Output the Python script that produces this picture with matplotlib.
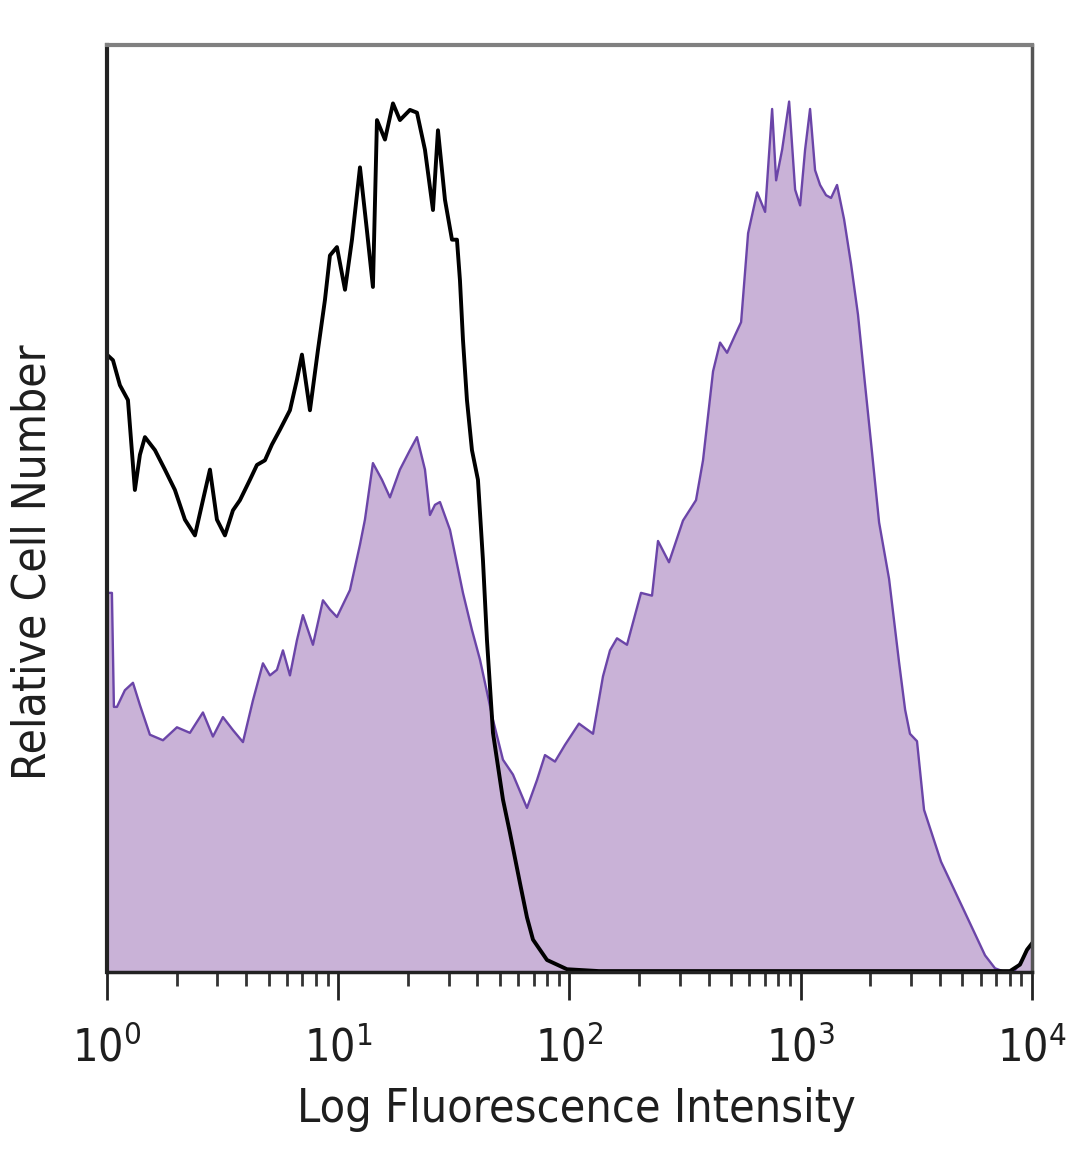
import matplotlib
matplotlib.use("Agg")
import matplotlib.pyplot as plt
import numpy as np

# isotype control (black outline)
ctrl_x = [1.0, 1.0, 1.062, 1.138, 1.233, 1.321, 1.389, 1.460, 1.613, 1.781, 1.968,
          2.174, 2.402, 2.601, 2.789, 2.990, 3.238, 3.506, 3.760, 4.153, 4.453,
          4.822, 5.170, 5.599, 6.185, 6.632, 6.970, 7.548, 8.174, 8.764, 9.211,
          9.876, 10.70, 11.47, 12.42, 13.31, 14.13, 14.71, 15.93, 17.25, 18.49,
          20.43, 21.91, 23.72, 25.69, 27.00, 28.95, 31.04, 32.62, 33.61, 34.63,
          36.03, 37.87, 40.20, 42.26, 43.98, 46.69, 51.57, 55.30, 61.08, 65.49,
          69.52, 79.93, 97.53, 134, 300, 1000, 3000, 8030, 8870, 9510, 10000]
ctrl_y = [0, 66.6, 66.0, 63.3, 61.7, 52.0, 55.8, 57.7, 56.3, 54.2, 52.0,
          48.8, 47.1, 50.9, 54.2, 48.8, 47.1, 49.8, 50.9, 53.1, 54.7,
          55.2, 56.9, 58.5, 60.6, 63.9, 66.6, 60.6, 67.1, 72.5, 77.3,
          78.2, 73.6, 79.0, 86.8, 80.0, 73.9, 91.9, 89.8, 93.7, 91.9,
          93.0, 92.7, 88.7, 82.2, 90.8, 83.3, 79.0, 79.0, 74.6, 68.2,
          61.7, 56.3, 53.1, 44.4, 35.8, 25.8, 18.6, 15.0, 9.6, 5.9,
          3.5, 1.3, 0.3, 0.1, 0.1, 0.1, 0.1, 0.1, 0.8, 2.4, 3.1]

# stained sample (filled purple)
stain_x = [1.0, 1.0, 1.051, 1.072, 1.105, 1.196, 1.296, 1.389, 1.534, 1.747, 2.008,
           2.285, 2.601, 2.873, 3.174, 3.506, 3.874, 4.279, 4.727, 5.068, 5.434,
           5.769, 6.185, 6.632, 7.039, 7.777, 8.591, 9.211, 9.876, 11.24, 12.42,
           13.05, 14.13, 15.46, 16.74, 18.49, 20.43, 21.91, 23.72, 24.93, 26.21,
           27.54, 30.43, 34.63, 37.87, 41.02, 46.69, 51.57, 56.97, 65.49, 72.35,
           78.35, 86.56, 95.62, 109.9, 126.4, 139.6, 149.7, 160.5, 177.3, 203.8,
           227.4, 241.4, 269.3, 309.6, 352.4, 377.9, 417.6, 447.8, 480.2, 520.0,
           552.1, 592.0, 647.5, 701.2, 751.9, 782.4, 830.6, 890.6, 945.4, 993.7,
           1044, 1097, 1153, 1212, 1286, 1352, 1435, 1539, 1649, 1768,
           1896, 2034, 2181, 2409, 2661, 2826, 2966, 3181, 3412, 4041,
           5132, 6262, 6917, 7645, 8441, 9053, 9609, 10000]
stain_y = [0, 40.9, 40.9, 28.6, 28.6, 30.4, 31.2, 28.8, 25.6, 25.0, 26.4,
           25.8, 28.0, 25.4, 27.5, 26.1, 24.8, 29.3, 33.3, 32.0, 32.6,
           34.7, 32.0, 35.8, 38.5, 35.3, 40.1, 39.1, 38.3, 41.2, 46.1,
           48.8, 54.9, 53.1, 51.2, 54.2, 56.3, 57.7, 54.2, 49.3, 50.4,
           50.7, 47.7, 40.9, 36.9, 33.7, 27.2, 22.9, 21.3, 17.7, 20.7,
           23.4, 22.7, 24.5, 26.8, 25.7, 31.9, 34.7, 36.0, 35.3, 40.9,
           40.6, 46.5, 44.2, 48.7, 50.9, 55.2, 64.8, 67.9, 66.8, 68.7,
           70.1, 79.7, 84.1, 82.0, 93.1, 85.4, 88.7, 93.9, 84.4, 82.7,
           88.7, 93.1, 86.5, 84.9, 83.8, 83.5, 84.9, 81.2, 76.4, 70.9,
           63.4, 56.0, 48.5, 42.4, 33.4, 28.3, 25.7, 24.9, 17.5, 11.9,
           6.4, 1.8, 0.4, 0.0, 0.2, 1.3, 2.6, 2.9]

tick_pos = [1, 10, 100, 1000, 10000]
tick_lbl = [r"$\mathregular{10^{%d}}$" % i for i in range(5)]

FILL = "#c9b2d7"
EDGE = "#6b45a8"
TXT = "#1e1e1e"

# narrow lettering like the original
plt.rcParams["font.family"] = ["DejaVu Sans"]
plt.rcParams["font.stretch"] = "condensed"

fig = plt.figure(figsize=(10.8, 11.69), dpi=100, facecolor="white")
ax = fig.add_axes([0.099, 0.1685, 0.8566, 0.793])

ax.fill_between(stain_x, stain_y, 0, color=FILL, lw=0)
ax.plot(stain_x, stain_y, color=EDGE, lw=1.7)
ax.plot(ctrl_x, ctrl_y, color="black", lw=2.8)

ax.set_xscale("log")
ax.set_xlim(1, 10000)
ax.set_ylim(0, 100)
ax.set_yticks([])

ax.set_xticks(tick_pos)
ax.set_xticklabels(tick_lbl, fontsize=32, color=TXT)
ax.tick_params(axis="x", which="major", direction="out", length=20, width=2,
               pad=19, color="#222222")
ax.tick_params(axis="x", which="minor", direction="out", length=10, width=2,
               color="#333333")
ax.xaxis.set_minor_locator(matplotlib.ticker.LogLocator(base=10, subs=np.arange(2, 10)))
ax.xaxis.set_minor_formatter(matplotlib.ticker.NullFormatter())

ax.spines["top"].set_color("#808080")
ax.spines["top"].set_linewidth(3)
ax.spines["right"].set_color("#555555")
ax.spines["right"].set_linewidth(2.5)
ax.spines["left"].set_color("#222222")
ax.spines["left"].set_linewidth(3)
ax.spines["bottom"].set_color("#222222")
ax.spines["bottom"].set_linewidth(2.5)

fig.text(576 / 1080, 1 - 1110 / 1169, "Log Fluorescence Intensity",
         ha="center", va="center", fontsize=33.5, color=TXT)
fig.text(33 / 1080, 1 - 562 / 1169, "Relative Cell Number", rotation=90,
         ha="center", va="center", fontsize=33, color=TXT)

fig.savefig("out.png", dpi=100, facecolor="white")
